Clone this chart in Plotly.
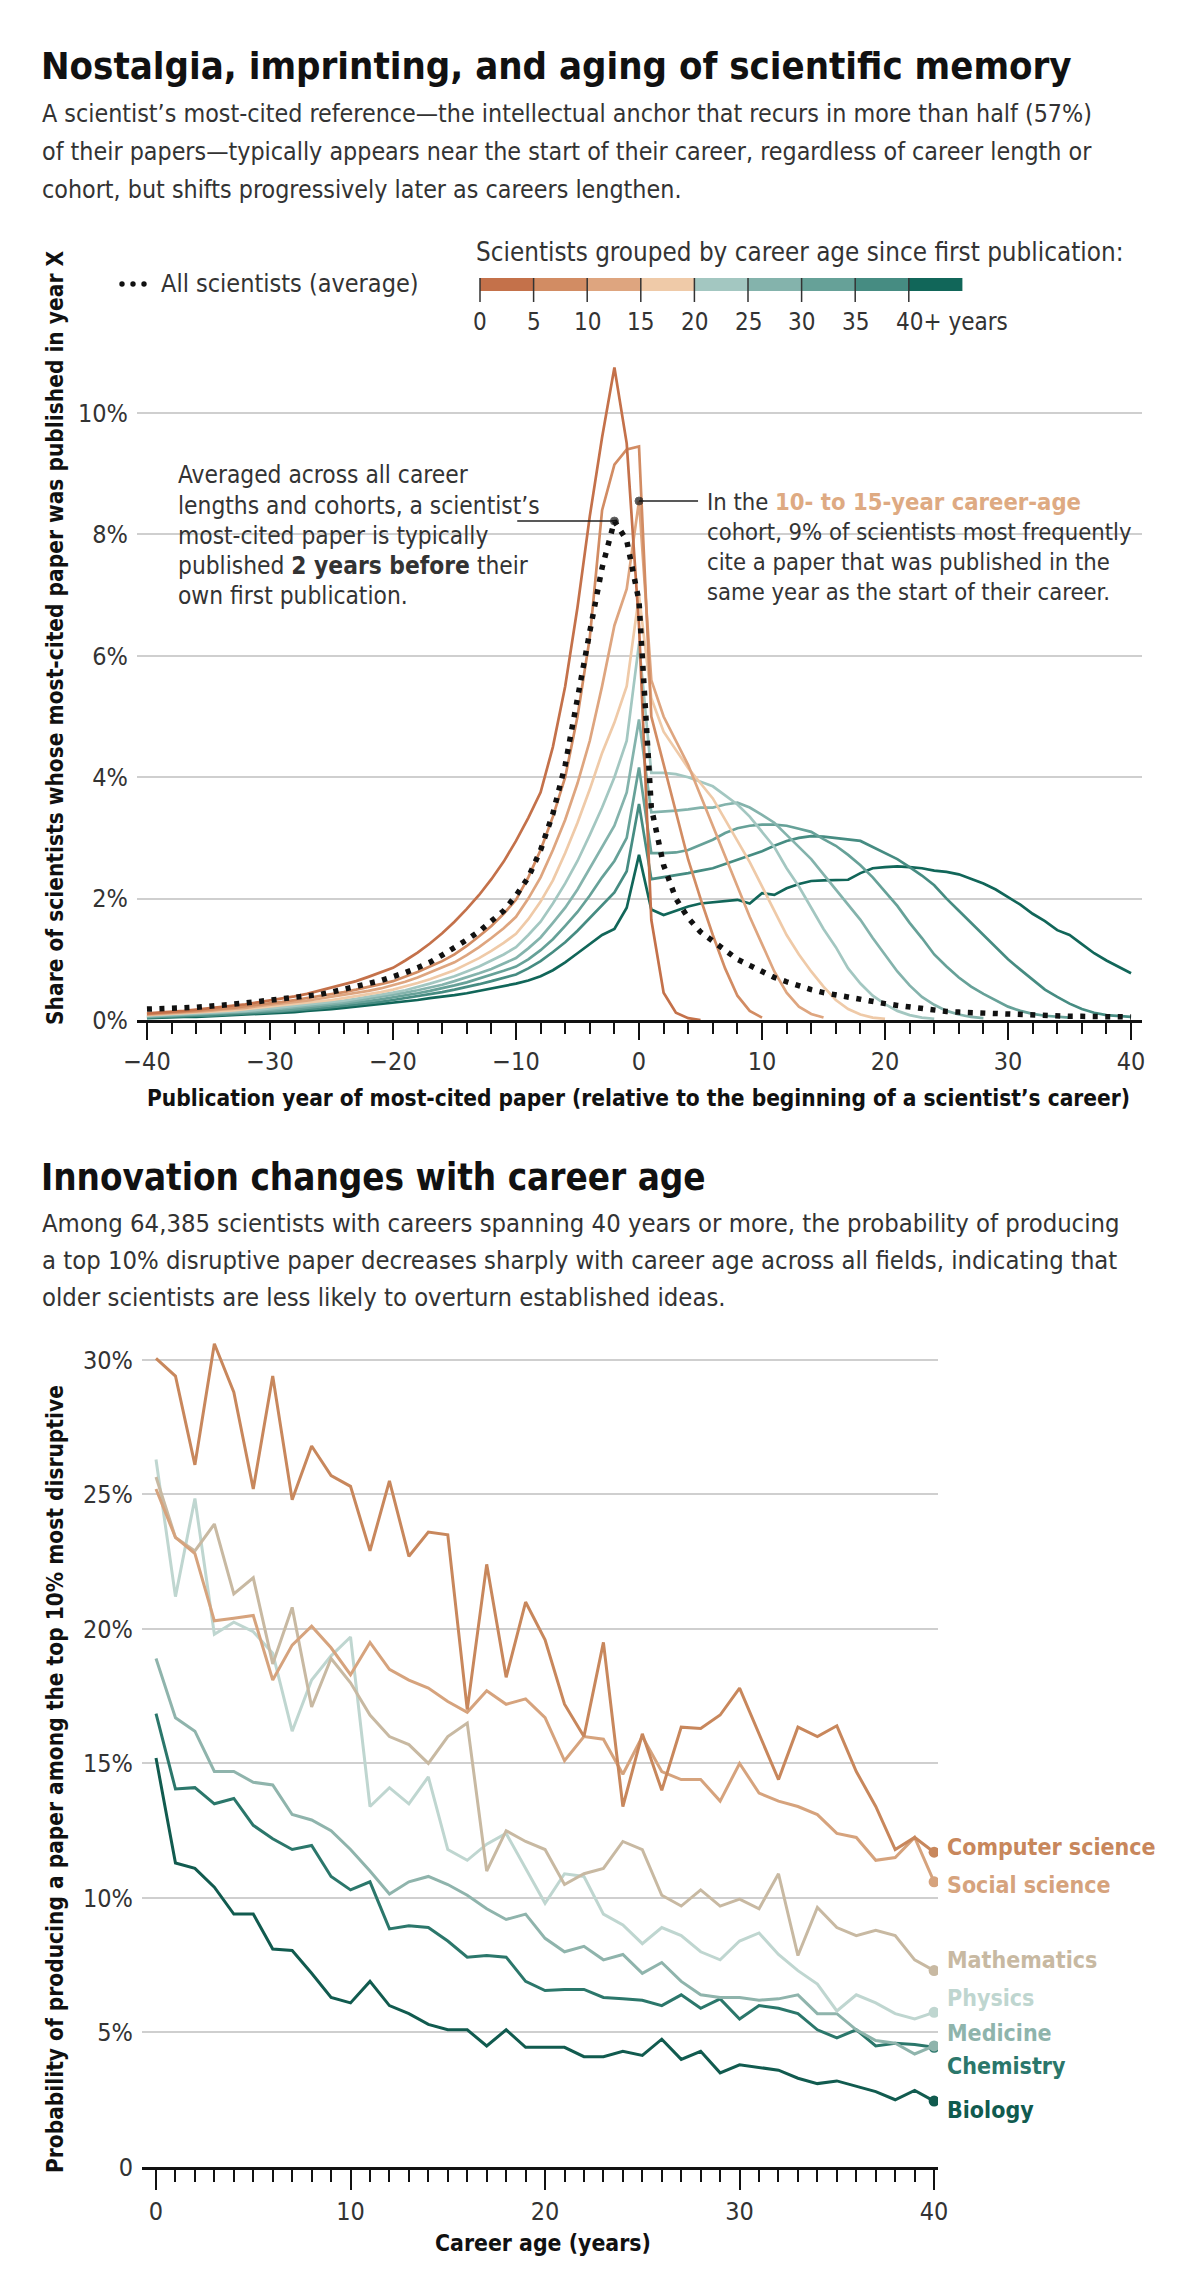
import plotly.graph_objects as go

W, H = 1200, 2285
FONT = "DejaVu Sans Condensed, Liberation Sans Narrow, Roboto, sans-serif"
TXT = "#333333"

# ---------------- Top chart data (share of scientists, %) ----------------
cohort_labels = ["0-5", "5-10", "10-15", "15-20", "20-25", "25-30", "30-35", "35-40", "40+"]
cohort_colors = ["#c4714a", "#d28c63", "#dea57f", "#efcaa8", "#a3c7c1",
                 "#84b3ac", "#66a198", "#468c82", "#116659"]
x_start = -40

avg_all = [0.18, 0.18, 0.19, 0.2, 0.21, 0.22, 0.24, 0.26, 0.28, 0.3,
           0.32, 0.34, 0.36, 0.39, 0.42, 0.46, 0.5, 0.55, 0.6, 0.65,
           0.71, 0.78, 0.86, 0.95, 1.07, 1.19, 1.32, 1.46, 1.62, 1.8,
           2.05, 2.35, 2.8, 3.4, 4.2, 5.35, 6.4, 7.45, 8.22, 7.9,
           6.9, 3.5, 2.55, 2.0, 1.68, 1.45, 1.3, 1.15, 1.0, 0.9,
           0.8, 0.7, 0.63, 0.56, 0.5, 0.45, 0.41, 0.37, 0.33, 0.3,
           0.27, 0.24, 0.21, 0.19, 0.16, 0.14, 0.13, 0.12, 0.11, 0.1,
           0.09, 0.08, 0.08, 0.07, 0.07, 0.06, 0.06, 0.06, 0.05, 0.05, 0.05]

c_0_5 = [0.11, 0.12, 0.14, 0.15, 0.17, 0.19, 0.21, 0.23, 0.26, 0.29, 0.32,
         0.35, 0.39, 0.43, 0.48, 0.53, 0.58, 0.64, 0.71, 0.78, 0.86,
         0.98, 1.11, 1.26, 1.43, 1.62,
         1.83, 2.06, 2.32, 2.61, 2.95,
         3.33, 3.75, 4.5, 5.5, 6.8, 8.3, 9.6, 10.75, 9.5, 6.5,
         1.65, 0.45, 0.12, 0.03, 0.0]
c_5_10 = [0.1, 0.11, 0.12, 0.14, 0.15, 0.17, 0.18, 0.2, 0.23, 0.25, 0.28,
          0.3, 0.33, 0.36, 0.39, 0.42, 0.46, 0.5, 0.54, 0.59, 0.64,
          0.71, 0.79, 0.88, 0.97, 1.08,
          1.22, 1.38, 1.55, 1.75, 1.98,
          2.35, 2.8, 3.35, 4.0, 5.0, 6.3, 8.4, 9.15, 9.4, 9.45,
          5.0, 4.2, 3.4, 2.64, 2.0, 1.4, 0.85, 0.4, 0.15, 0.04]
c_10_15 = [0.09, 0.1, 0.11, 0.12, 0.14, 0.15, 0.17, 0.18, 0.2, 0.23, 0.25,
           0.27, 0.29, 0.32, 0.35, 0.38, 0.41, 0.44, 0.48, 0.52, 0.57,
           0.63, 0.7, 0.78, 0.86, 0.95,
           1.07, 1.2, 1.35, 1.51, 1.7,
           2.0, 2.35, 2.8, 3.3, 3.9, 4.6, 5.5, 6.5, 7.1, 8.55,
           5.6, 5.0, 4.6, 4.2, 3.7, 3.2, 2.7, 2.2, 1.7, 1.25, 0.8, 0.45, 0.22, 0.1, 0.04]
c_15_20 = [0.08, 0.09, 0.1, 0.11, 0.12, 0.13, 0.15, 0.16, 0.18, 0.2, 0.22,
           0.24, 0.26, 0.28, 0.31, 0.33, 0.36, 0.39, 0.43, 0.46, 0.5,
           0.55, 0.61, 0.67, 0.74, 0.82,
           0.92, 1.02, 1.14, 1.27, 1.42,
           1.66, 1.95, 2.3, 2.75, 3.25, 3.8, 4.4, 4.9, 5.5, 7.0,
           5.3, 4.75, 4.45, 4.15, 3.9, 3.65, 3.3, 2.95, 2.6, 2.2,
           1.8, 1.4, 1.08, 0.8, 0.55, 0.33, 0.18, 0.09, 0.04, 0.02]
c_20_25 = [0.07, 0.08, 0.08, 0.09, 0.1, 0.11, 0.12, 0.14, 0.15, 0.17, 0.19,
           0.21, 0.23, 0.25, 0.27, 0.29, 0.32, 0.35, 0.38, 0.41, 0.45,
           0.49, 0.54, 0.6, 0.66, 0.72,
           0.8, 0.88, 0.98, 1.08, 1.2,
           1.4, 1.62, 1.92, 2.25, 2.62, 3.05, 3.5, 4.0, 4.6, 6.2,
           4.07, 4.07, 4.05, 4.0, 3.93, 3.85, 3.7, 3.55, 3.35, 3.1, 2.85, 2.5,
           2.2, 1.85, 1.5, 1.2, 0.85, 0.6, 0.4, 0.26, 0.15, 0.08, 0.04, 0.02]
c_25_30 = [0.06, 0.07, 0.07, 0.08, 0.09, 0.1, 0.11, 0.12, 0.14, 0.15, 0.17,
           0.19, 0.2, 0.22, 0.24, 0.27, 0.29, 0.32, 0.35, 0.38, 0.41,
           0.45, 0.49, 0.53, 0.58, 0.64,
           0.7, 0.77, 0.84, 0.93, 1.02,
           1.18, 1.36, 1.6, 1.85, 2.15, 2.5, 2.85, 3.2, 3.75, 4.95,
           3.42, 3.43, 3.45, 3.47, 3.5, 3.5, 3.55, 3.58, 3.5, 3.38, 3.25, 3.05, 2.85, 2.65,
           2.4, 2.15, 1.9, 1.65, 1.35, 1.08, 0.8, 0.57, 0.38, 0.25, 0.15, 0.09, 0.05, 0.03]
c_30_35 = [0.05, 0.06, 0.06, 0.07, 0.08, 0.09, 0.1, 0.11, 0.12, 0.13, 0.15,
           0.16, 0.18, 0.2, 0.22, 0.24, 0.26, 0.28, 0.31, 0.34, 0.37,
           0.4, 0.44, 0.48, 0.52, 0.57,
           0.62, 0.68, 0.74, 0.81, 0.88,
           1.0, 1.15, 1.33, 1.55, 1.78, 2.05, 2.35, 2.62, 3.0, 4.16,
           2.75, 2.75, 2.76, 2.8, 2.88, 2.97, 3.08, 3.16, 3.2, 3.22, 3.22, 3.2, 3.15, 3.1,
           2.98, 2.87, 2.72, 2.55, 2.35, 2.12, 1.88, 1.6, 1.35, 1.08, 0.88, 0.7, 0.55,
           0.43, 0.32, 0.22, 0.15, 0.1, 0.07, 0.05, 0.04]
c_35_40 = [0.04, 0.05, 0.05, 0.06, 0.07, 0.07, 0.08, 0.09, 0.1, 0.12, 0.13,
           0.14, 0.16, 0.17, 0.19, 0.21, 0.23, 0.25, 0.28, 0.3, 0.33,
           0.36, 0.39, 0.42, 0.46, 0.5,
           0.54, 0.59, 0.64, 0.69, 0.75,
           0.85, 0.97, 1.12, 1.28, 1.47, 1.68, 1.9, 2.1, 2.45, 3.56,
           2.32, 2.35, 2.38, 2.42, 2.46, 2.5, 2.57, 2.64, 2.7, 2.78, 2.87, 2.95, 3.0, 3.03,
           3.02, 3.0, 2.97, 2.95, 2.85, 2.75, 2.65, 2.52, 2.38, 2.22, 2.0, 1.8, 1.6, 1.4,
           1.2, 1.0, 0.83, 0.66, 0.5, 0.38, 0.27, 0.18, 0.12, 0.08, 0.06, 0.05]
c_40_plus = [0.03, 0.04, 0.04, 0.05, 0.05, 0.06, 0.07, 0.07, 0.08, 0.1, 0.11,
             0.12, 0.13, 0.15, 0.16, 0.18, 0.2, 0.22, 0.24, 0.26, 0.29,
             0.31, 0.33, 0.36, 0.38, 0.41,
             0.44, 0.48, 0.51, 0.55, 0.6,
             0.65, 0.72, 0.82, 0.95, 1.1, 1.25, 1.4, 1.5, 1.85, 2.72,
             1.82, 1.73, 1.8, 1.87, 1.92, 1.94, 1.95, 1.98, 1.92, 2.09, 2.06, 2.17, 2.24, 2.29,
             2.3, 2.3, 2.31, 2.42, 2.5, 2.52, 2.53, 2.52, 2.5, 2.46, 2.44, 2.4, 2.33, 2.25,
             2.15, 2.02, 1.9, 1.75, 1.63, 1.48, 1.4, 1.25, 1.1, 0.98, 0.87, 0.77]
cohorts = [c_0_5, c_5_10, c_10_15, c_15_20, c_20_25, c_25_30, c_30_35, c_35_40, c_40_plus]

top_xticks = [-40, -30, -20, -10, 0, 10, 20, 30, 40]
top_yticks = [0, 2, 4, 6, 8, 10]

# ---------------- Bottom chart data (probability, %) ----------------
career_age = list(range(0, 41))
fields = ["Computer science", "Social science", "Mathematics", "Physics",
          "Medicine", "Chemistry", "Biology"]
field_colors = ["#c8875c", "#d6a37d", "#c8b9a2", "#bfd6d0", "#8fb4ac", "#2b776b", "#115b4f"]
computer_science = [30.06, 29.4, 26.1, 30.6, 28.8, 25.2, 29.4, 24.8, 26.8, 25.7,
                    25.3, 22.9, 25.5, 22.7, 23.6, 23.5, 17.0, 22.4, 18.2, 21.0,
                    19.6, 17.2, 16.0, 19.5, 13.4, 16.1, 14.0, 16.35, 16.3, 16.8,
                    17.8, 16.1, 14.4, 16.35, 16.0, 16.4, 14.7, 13.4, 11.8, 12.25, 11.7]
social_science = [25.2, 23.4, 22.8, 20.3, 20.4, 20.5, 18.1, 19.4, 20.1, 19.3,
                  18.3, 19.5, 18.5, 18.1, 17.8, 17.3, 16.9, 17.7, 17.2, 17.4,
                  16.7, 15.1, 16.0, 15.9, 14.6, 16.0, 14.7, 14.4, 14.4, 13.6,
                  15.0, 13.9, 13.6, 13.4, 13.1, 12.4, 12.25, 11.4, 11.5, 12.25, 10.6]
mathematics = [25.65, 23.4, 22.9, 23.9, 21.3, 21.9, 18.7, 20.8, 17.1, 18.9,
               18.0, 16.8, 16.0, 15.7, 15.0, 16.0, 16.5, 11.0, 12.5, 12.1,
               11.8, 10.5, 10.9, 11.1, 12.1, 11.8, 10.1, 9.7, 10.3, 9.7,
               9.96, 9.6, 10.9, 7.86, 9.65, 8.9, 8.6, 8.8, 8.6, 7.7, 7.3]
physics = [26.3, 21.2, 24.85, 19.8, 20.25, 19.9, 19.1, 16.2, 18.1, 19.0,
           19.7, 13.4, 14.1, 13.5, 14.5, 11.8, 11.4, 12.0, 12.4, 11.1,
           9.8, 10.9, 10.8, 9.4, 9.0, 8.3, 8.9, 8.6, 8.0, 7.7,
           8.4, 8.7, 7.9, 7.3, 6.8, 5.8, 6.4, 6.1, 5.7, 5.5, 5.75]
medicine = [18.9, 16.7, 16.2, 14.7, 14.7, 14.3, 14.2, 13.1, 12.9, 12.5,
            11.8, 11.0, 10.15, 10.6, 10.8, 10.5, 10.1, 9.6, 9.2, 9.4,
            8.5, 8.0, 8.2, 7.7, 7.9, 7.2, 7.6, 6.9, 6.4, 6.3,
            6.3, 6.2, 6.25, 6.4, 5.7, 5.7, 5.1, 4.7, 4.6, 4.2, 4.5]
chemistry = [16.85, 14.05, 14.1, 13.5, 13.7, 12.7, 12.2, 11.8, 11.95, 10.8,
             10.3, 10.6, 8.85, 8.97, 8.9, 8.4, 7.8, 7.86, 7.8, 6.9,
             6.56, 6.6, 6.6, 6.3, 6.25, 6.2, 6.0, 6.4, 5.9, 6.25,
             5.5, 6.0, 5.9, 5.7, 5.1, 4.8, 5.1, 4.5, 4.6, 4.55, 4.45]
biology = [15.2, 11.3, 11.1, 10.4, 9.4, 9.4, 8.1, 8.05, 7.2, 6.3,
           6.1, 6.9, 6.0, 5.7, 5.3, 5.1, 5.1, 4.5, 5.1, 4.45,
           4.45, 4.45, 4.1, 4.1, 4.3, 4.15, 4.75, 4.0, 4.3, 3.5,
           3.8, 3.7, 3.6, 3.3, 3.1, 3.2, 3.0, 2.8, 2.5, 2.85, 2.45]
field_values = [computer_science, social_science, mathematics, physics, medicine, chemistry, biology]
field_label_y = [1847, 1885, 1960, 1998, 2033, 2066, 2110]   # label positions (px)

bot_xticks = [0, 10, 20, 30, 40]
bot_yticks = [0, 5, 10, 15, 20, 25, 30]


def px(xp):
    return xp / W


def py(yp):
    return 1 - yp / H


fig = go.Figure()

# ----- top chart traces -----
for vals, col, lab in reversed(list(zip(cohorts, cohort_colors, cohort_labels))):
    xs = list(range(x_start, x_start + len(vals)))
    fig.add_trace(go.Scatter(x=xs, y=vals, mode="lines", name=lab,
                             line=dict(color=col, width=2.7), xaxis="x", yaxis="y",
                             hoverinfo="skip"))
xs_avg = list(range(x_start, x_start + len(avg_all)))
fig.add_trace(go.Scatter(x=xs_avg, y=avg_all, mode="lines", name="All scientists (average)",
                         line=dict(color="#111111", width=5.5, dash="5px,7.5px"),
                         xaxis="x", yaxis="y", hoverinfo="skip"))

# connectors for annotations (anchored to data)
avg_peak = max(avg_all)
avg_peak_x = xs_avg[avg_all.index(avg_peak)]
fig.add_trace(go.Scatter(x=[-9.9, avg_peak_x], y=[avg_peak, avg_peak], mode="lines+markers",
                         line=dict(color="#222222", width=1.6),
                         marker=dict(size=[0, 8], color="#111111"),
                         xaxis="x", yaxis="y", hoverinfo="skip"))
c2_at0 = c_10_15[0 - x_start]
fig.add_trace(go.Scatter(x=[0, 4.8], y=[c2_at0, c2_at0], mode="lines+markers",
                         line=dict(color="#222222", width=1.6),
                         marker=dict(size=[8, 0], color="#111111"),
                         xaxis="x", yaxis="y", hoverinfo="skip"))

# ----- bottom chart traces -----
for name, vals, col in reversed(list(zip(fields, field_values, field_colors))):
    fig.add_trace(go.Scatter(x=career_age, y=vals, mode="lines", name=name,
                             line=dict(color=col, width=3), xaxis="x2", yaxis="y2",
                             hoverinfo="skip"))
    fig.add_trace(go.Scatter(x=[career_age[-1]], y=[vals[-1]], mode="markers",
                             marker=dict(color=col, size=11), xaxis="x2", yaxis="y2",
                             hoverinfo="skip"))

# ----- annotations -----
ann = []


def T(text, x, y, size, color=TXT, xanchor="left", bold=False, angle=0, yanchor="middle"):
    if bold:
        text = "<b>" + text + "</b>"
    ann.append(dict(text=text, x=px(x), y=py(y), xref="paper", yref="paper",
                    xanchor=xanchor, yanchor=yanchor, showarrow=False, textangle=angle,
                    borderpad=0, font=dict(family=FONT, size=size, color=color)))


T("Nostalgia, imprinting, and aging of scientific memory", 40, 66, 38, "#111111", bold=True)
for i, line in enumerate([
        "A scientist’s most-cited reference—the intellectual anchor that recurs in more than half (57%)",
        "of their papers—typically appears near the start of their career, regardless of career length or",
        "cohort, but shifts progressively later as careers lengthen."]):
    T(line, 41, 114 + i * 38, 24.8)

T("Scientists grouped by career age since first publication:", 475, 252, 25.8)
T("All scientists (average)", 420, 284, 25, xanchor="right")

left_lines = ["Averaged across all career",
              "lengths and cohorts, a scientist’s",
              "most-cited paper is typically",
              "published <b>2 years before</b> their",
              "own first publication."]
for i, line in enumerate(left_lines):
    T(line, 177, 475 + i * 30, 24.3)
right_lines = ["In the <b><span style='color:#deaa82'>10- to 15-year career-age</span></b>",
               "cohort, 9% of scientists most frequently",
               "cite a paper that was published in the",
               "same year as the start of their career."]
for i, line in enumerate(right_lines):
    T(line, 706, 502 + i * 30, 23.6)

T("Share of scientists whose most-cited paper was published in year X", 55, 638, 22.5,
  "#111111", xanchor="center", bold=True, angle=-90)
T("Publication year of most-cited paper (relative to the beginning of a scientist’s career)",
  638, 1098, 22.5, "#111111", xanchor="center", bold=True)

T("Innovation changes with career age", 40, 1177, 36.5, "#111111", bold=True)
for i, line in enumerate([
        "Among 64,385 scientists with careers spanning 40 years or more, the probability of producing",
        "a top 10% disruptive paper decreases sharply with career age across all fields, indicating that",
        "older scientists are less likely to overturn established ideas."]):
    T(line, 41, 1223 + i * 37, 25.4)

T("Probability of producing a paper among the top 10% most disruptive", 55, 1779, 22.5,
  "#111111", xanchor="center", bold=True, angle=-90)
T("Career age (years)", 543, 2243, 22.8, "#111111", xanchor="center", bold=True)

for name, col, ly in zip(fields, field_colors, field_label_y):
    T(name, 946, ly, 23, col, bold=True)

# colour bar legend
bar_x0, bar_w = 480, 53.6
bar_labels = ["0", "5", "10", "15", "20", "25", "30", "35"]
shapes = []
for i, col in enumerate(cohort_colors):
    shapes.append(dict(type="rect", xref="paper", yref="paper",
                       x0=px(bar_x0 + i * bar_w), x1=px(bar_x0 + (i + 1) * bar_w),
                       y0=py(291), y1=py(278), fillcolor=col, line=dict(width=0)))
for i in range(9):
    xb = bar_x0 + i * bar_w
    shapes.append(dict(type="line", xref="paper", yref="paper", x0=px(xb), x1=px(xb),
                       y0=py(302), y1=py(278), line=dict(color="#333333", width=1.5)))
for i, lab in enumerate(bar_labels):
    T(lab, bar_x0 + i * bar_w, 322, 24, xanchor="center")
T("40+ years", bar_x0 + 8 * bar_w - 14, 322, 24)

# dots legend glyph
for cx in [122, 133, 144]:
    shapes.append(dict(type="circle", xref="paper", yref="paper",
                       x0=px(cx - 2.7), x1=px(cx + 2.7), y0=py(284 + 2.7), y1=py(284 - 2.7),
                       fillcolor="#111111", line=dict(width=0)))

# white boxes behind annotation text (hide gridlines only)
for (x0, x1, y0, y1) in [(168, 553, 456, 612), (694, 1160, 486, 612)]:
    shapes.append(dict(type="rect", xref="paper", yref="paper", layer="between",
                       x0=px(x0), x1=px(x1), y0=py(y1), y1=py(y0),
                       fillcolor="white", line=dict(width=0)))

axis_common = dict(showline=True, linecolor="#111111", linewidth=2.5, zeroline=False,
                   showgrid=False, ticks="outside", tickcolor="#111111", tickwidth=2,
                   tickfont=dict(family=FONT, size=25, color=TXT))
yaxis_common = dict(showgrid=True, gridcolor="#cfcfcf", gridwidth=1.6, zeroline=False,
                    showline=False, ticks="", ticklabelstandoff=8,
                    tickfont=dict(family=FONT, size=25, color=TXT))

fig.update_layout(
    width=W, height=H, margin=dict(l=0, r=0, t=0, b=0, autoexpand=False),
    paper_bgcolor="white", plot_bgcolor="white", showlegend=False,
    font=dict(family=FONT, color=TXT),
    xaxis=dict(domain=[px(137), px(1142)], range=[-40.81, 40.89], anchor="y",
               tickvals=top_xticks, ticklen=17, automargin=False,
               minor=dict(dtick=2, ticklen=11, tickwidth=1.5, tickcolor="#111111",
                          ticks="outside", showgrid=False),
               **axis_common),
    yaxis=dict(domain=[py(1020), py(352.3)], range=[0, 11], anchor="x", automargin=False,
               tickvals=top_yticks, ticktext=[f"{v}%" for v in top_yticks], **yaxis_common),
    xaxis2=dict(domain=[px(142), px(938)], range=[-0.72, 40.2], anchor="y2",
                tickvals=bot_xticks, ticklen=20, automargin=False,
                minor=dict(dtick=1, ticklen=12, tickwidth=1.5, tickcolor="#111111",
                           ticks="outside", showgrid=False),
                **axis_common),
    yaxis2=dict(domain=[py(2167), py(1333)], range=[0, 31], anchor="x2", automargin=False,
                tickvals=bot_yticks,
                ticktext=["0" if v == 0 else f"{v}%" for v in bot_yticks], **yaxis_common),
    annotations=ann, shapes=shapes,
)

fig.write_html("out.html", post_script="document.body.style.margin='0px';")
